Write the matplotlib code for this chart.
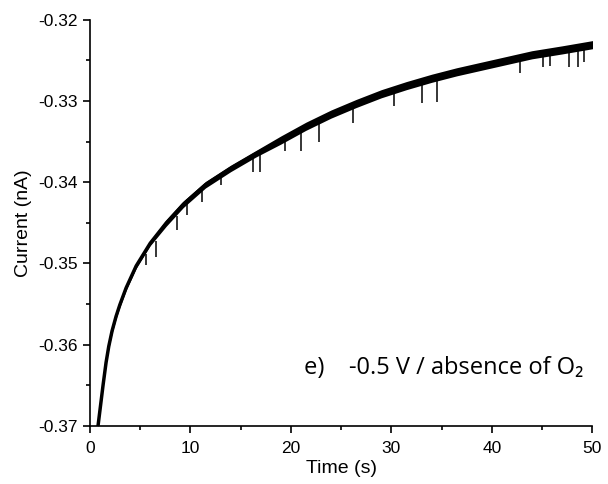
import numpy as np
import matplotlib
matplotlib.use("Agg")
import matplotlib.pyplot as plt
from matplotlib.ticker import MultipleLocator, FormatStrFormatter

# trend of the current trace (time in s, current in nA)
time_s = [0.8, 1.05, 1.3, 1.6, 1.87, 2.2, 2.6, 2.97, 3.6, 4.6, 6.0, 7.6, 9.3,
          11.5, 14.0, 16.5, 19.0, 21.5, 24.0, 26.5, 29.0, 31.5, 34.0, 36.5, 39.0,
          41.5, 44.0, 47.0, 50.3]
current = [-0.3700, -0.3675, -0.3650, -0.3622, -0.3602, -0.3583, -0.3565, -0.3551,
           -0.3530, -0.3503, -0.3475, -0.3450, -0.3427, -0.3403, -0.3383, -0.3365,
           -0.3348, -0.3331, -0.3316, -0.3303, -0.3291, -0.3281, -0.3272, -0.3264,
           -0.3257, -0.3250, -0.3243, -0.3237, -0.3230]
# half width of the noise band (nA)
band = [0.0002, 0.0002, 0.0002, 0.0002, 0.0003, 0.0003, 0.0003, 0.0003, 0.0003,
        0.0003, 0.0003, 0.0004, 0.0004, 0.0004, 0.0004, 0.0004, 0.0005, 0.0005,
        0.0005, 0.0005, 0.0005, 0.0005, 0.0005, 0.0005, 0.0005, 0.0005, 0.0005,
        0.0005, 0.0005]

# downward spikes: time, top, bottom
spike_t = [5.6, 6.6, 8.7, 9.7, 11.2, 13.0, 16.2, 16.9, 19.4, 21.0, 22.8, 26.2,
           30.3, 33.1, 34.5, 42.8, 45.1, 45.8, 47.7, 48.6, 49.2]
spike_top = [-0.3488, -0.3472, -0.3442, -0.3421, -0.3406, -0.3392, -0.3368, -0.3363,
             -0.3346, -0.3335, -0.3324, -0.3305, -0.3286, -0.3276, -0.3271, -0.3246,
             -0.3240, -0.3239, -0.3235, -0.3233, -0.3232]
spike_bot = [-0.3502, -0.3492, -0.3459, -0.3440, -0.3424, -0.3403, -0.3387, -0.3387,
             -0.3362, -0.3362, -0.3351, -0.3327, -0.3306, -0.3303, -0.3301, -0.3265,
             -0.3258, -0.3257, -0.3258, -0.3258, -0.3252]

t = np.array(time_s)
c = np.array(current)
b = np.array(band)

plt.rcParams['font.family'] = ['Liberation Sans', 'DejaVu Sans']

fig = plt.figure(figsize=(6.08, 4.84), dpi=100)
ax = fig.add_axes([0.148, 0.120, 0.826, 0.839])

ax.fill_between(t, c - b, c + b, color='k', lw=0)
ax.plot(t, c, color='k', lw=2.5, solid_joinstyle='round')
ax.vlines(spike_t, spike_bot, spike_top, color='k', lw=1.1)

ax.set_xlim(0, 50)
ax.set_ylim(-0.37, -0.32)
ax.xaxis.set_major_locator(MultipleLocator(10))
ax.xaxis.set_minor_locator(MultipleLocator(5))
ax.yaxis.set_major_locator(MultipleLocator(0.01))
ax.yaxis.set_minor_locator(MultipleLocator(0.005))
ax.yaxis.set_major_formatter(FormatStrFormatter('%.2f'))

for s in ['top', 'right']:
    ax.spines[s].set_visible(False)
for s in ['left', 'bottom']:
    ax.spines[s].set_linewidth(1.2)
ax.tick_params(which='major', direction='out', length=5, width=1.2, labelsize=12.5)
ax.tick_params(axis='x', which='major', pad=6)
ax.tick_params(which='minor', direction='out', length=3, width=1.2)

ax.set_xlabel('Time (s)', fontsize=14, labelpad=3)
ax.set_ylabel('Current (nA)', fontsize=14, labelpad=5)

ax.text(0.982, 0.143, 'e)    -0.5 V / absence of O\u2082', transform=ax.transAxes,
        ha='right', va='center', fontsize=17, family=['Open Sans', 'DejaVu Sans'])

fig.savefig('out.png', dpi=100)
